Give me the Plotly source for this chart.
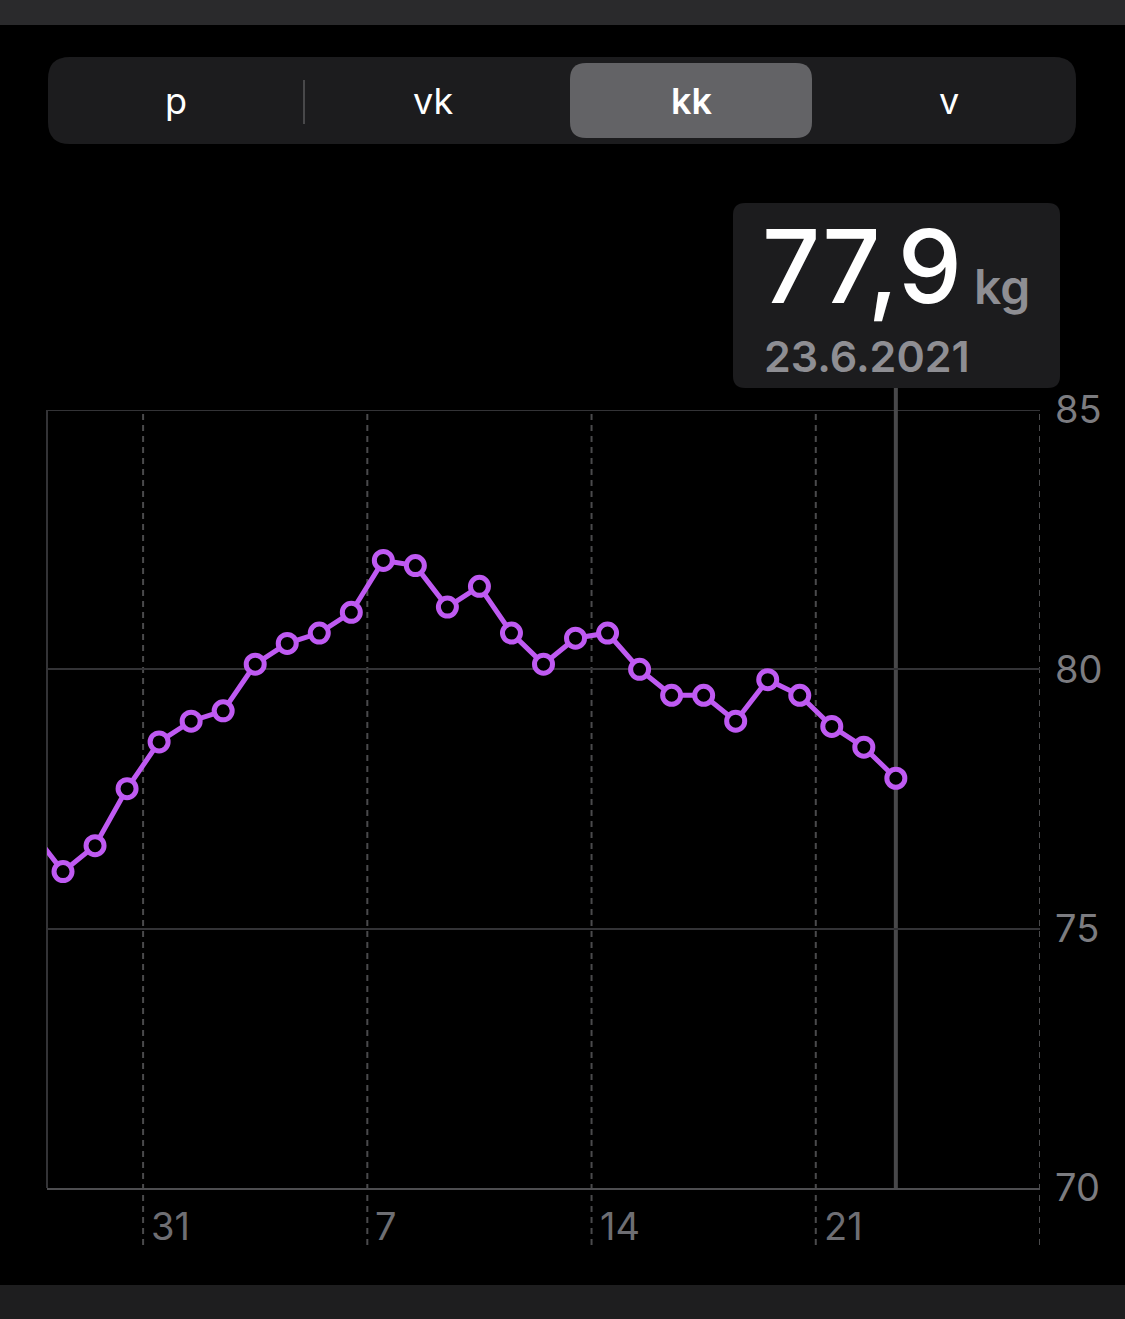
import pandas as pd
import plotly.graph_objects as go

W, H = 1125, 1319

# ── data ─────────────────────────────────────────────
dates = pd.date_range("2021-05-27 12:00", "2021-06-23 12:00", freq="D")
weights = [76.9, 76.1, 76.6, 77.7, 78.6,
           79.0, 79.2, 80.1, 80.5, 80.7, 81.1, 82.1, 82.0, 81.2, 81.6,
           80.7, 80.1, 80.6, 80.7, 80.0, 79.5, 79.5, 79.0, 79.8, 79.5,
           78.9, 78.5, 77.9]
week_ticks = ["2021-05-31", "2021-06-07", "2021-06-14", "2021-06-21", "2021-06-28"]
week_labels = ["31", "7", "14", "21", ""]
y_ticks = [70, 75, 80, 85]
segments = ["p", "vk", "kk", "v"]
selected = "kk"

PURPLE = "#BF5AF2"
GREY_TXT = "#8e8e93"
FONT = "Inter"


def px(x):
    return x / W


def py(y):
    return 1 - y / H


def rrect(x0, y0, x1, y1, r):
    """rounded rect path in pixel coords -> paper"""
    pts = [
        f"M {px(x0 + r)},{py(y0)}",
        f"L {px(x1 - r)},{py(y0)}",
        f"Q {px(x1)},{py(y0)} {px(x1)},{py(y0 + r)}",
        f"L {px(x1)},{py(y1 - r)}",
        f"Q {px(x1)},{py(y1)} {px(x1 - r)},{py(y1)}",
        f"L {px(x0 + r)},{py(y1)}",
        f"Q {px(x0)},{py(y1)} {px(x0)},{py(y1 - r)}",
        f"L {px(x0)},{py(y0 + r)}",
        f"Q {px(x0)},{py(y0)} {px(x0 + r)},{py(y0)}",
        "Z",
    ]
    return " ".join(pts)


fig = go.Figure()

fig.add_trace(go.Scatter(
    x=dates, y=weights,
    mode="lines+markers",
    line=dict(color=PURPLE, width=5),
    marker=dict(symbol="circle", size=18, color="black",
                line=dict(color=PURPLE, width=5)),
    showlegend=False,
    hoverinfo="skip",
))

shapes = []
# top / bottom bars
shapes.append(dict(type="rect", xref="paper", yref="paper",
                   x0=0, x1=1, y0=py(0), y1=py(25),
                   fillcolor="#2a2a2c", line=dict(width=0), layer="below"))
shapes.append(dict(type="rect", xref="paper", yref="paper",
                   x0=0, x1=1, y0=py(1285), y1=py(H),
                   fillcolor="#1e1e1f", line=dict(width=0), layer="below"))

# segmented control
shapes.append(dict(type="path", xref="paper", yref="paper",
                   path=rrect(48, 57, 1076, 144, 22),
                   fillcolor="#1c1c1e", line=dict(width=0), layer="below"))
shapes.append(dict(type="path", xref="paper", yref="paper",
                   path=rrect(570, 63, 812, 138, 16),
                   fillcolor="#636366", line=dict(width=0), layer="below"))
shapes.append(dict(type="line", xref="paper", yref="paper",
                   x0=px(304), x1=px(304), y0=py(80), y1=py(124),
                   line=dict(color="#48484a", width=2)))

# weekly dashed lines (extend below the axis)
for d in week_ticks:
    shapes.append(dict(type="line", xref="x", yref="paper",
                       x0=d, x1=d, y0=py(1245), y1=py(410),
                       line=dict(color="#4a4a4c", width=2, dash="6px,5px"),
                       layer="below"))

# left border + top gridline
shapes.append(dict(type="line", xref="paper", yref="paper",
                   x0=px(47), x1=px(47), y0=py(1188), y1=py(410),
                   line=dict(color="#333336", width=2), layer="below"))
shapes.append(dict(type="line", xref="paper", yref="y",
                   x0=px(47), x1=px(1040), y0=y_ticks[-1], y1=y_ticks[-1],
                   line=dict(color="#333336", width=2), layer="below"))

# selection line + tooltip
sel_x = dates[-1]
shapes.append(dict(type="line", xref="x", yref="paper",
                   x0=sel_x, x1=sel_x, y0=py(1188), y1=py(388),
                   line=dict(color="#48484a", width=4), layer="below"))
shapes.append(dict(type="path", xref="paper", yref="paper",
                   path=rrect(733, 203, 1060, 388, 12),
                   fillcolor="#1c1c1e", line=dict(width=0), layer="below"))

annotations = []
seg_x = [176, 433, 691, 949]
for s, x in zip(segments, seg_x):
    annotations.append(dict(
        x=px(x), y=py(101), xref="paper", yref="paper",
        text=s,
        showarrow=False, xanchor="center", yanchor="middle",
        font=dict(family=FONT, size=36, color="white",
                  weight=600 if s == selected else 400),
    ))

value_txt = f"{weights[-1]:.1f}".replace(".", ",")
date_txt = f"{dates[-1].day}.{dates[-1].month}.{dates[-1].year}"
annotations.append(dict(
    x=px(760), y=py(266), xref="paper", yref="paper",
    text=value_txt, showarrow=False, xanchor="left", yanchor="middle",
    font=dict(family=FONT, size=102, color="white", weight=500),
))
annotations.append(dict(
    x=px(972), y=py(286), xref="paper", yref="paper",
    text="kg", showarrow=False, xanchor="left", yanchor="middle",
    font=dict(family=FONT, size=48, color=GREY_TXT, weight=600),
))
annotations.append(dict(
    x=px(762), y=py(356), xref="paper", yref="paper",
    text=date_txt, showarrow=False, xanchor="left", yanchor="middle",
    font=dict(family=FONT, size=43, color=GREY_TXT, weight=600),
))

# x tick labels, left aligned next to the dashed week lines
for d, lab in zip(week_ticks, week_labels):
    if not lab:
        continue
    annotations.append(dict(
        x=d, y=py(1226), xref="x", yref="paper",
        text=lab, showarrow=False, xanchor="left", yanchor="middle", xshift=6,
        font=dict(family=FONT, size=38, color="#6e6e73"),
    ))

fig.update_layout(
    width=W, height=H,
    margin=dict(l=0, r=0, t=0, b=0, pad=0),
    paper_bgcolor="black",
    plot_bgcolor="black",
    shapes=shapes,
    annotations=annotations,
    xaxis=dict(
        type="date",
        range=["2021-05-28", "2021-06-28"],
        domain=[px(47), px(1040)],
        showgrid=False, zeroline=False,
        showticklabels=False,
        showline=True, linecolor="#4d4d50", linewidth=2,
        fixedrange=True, automargin=False,
    ),
    yaxis=dict(
        range=[70, 85],
        domain=[py(1188), py(410)],
        side="right",
        tickvals=y_ticks,
        ticktext=[str(v) for v in y_ticks],
        tickfont=dict(family=FONT, size=38, color="#7c7c80"),
        ticks="",
        ticklabelstandoff=14,
        showgrid=True, gridcolor="#333336", gridwidth=2,
        zeroline=False,
        fixedrange=True, automargin=False,
    ),
)

fig.write_html(
    "out.html",
    config={"displayModeBar": False},
    post_script="document.body.style.margin='0';document.body.style.background='black';",
)
